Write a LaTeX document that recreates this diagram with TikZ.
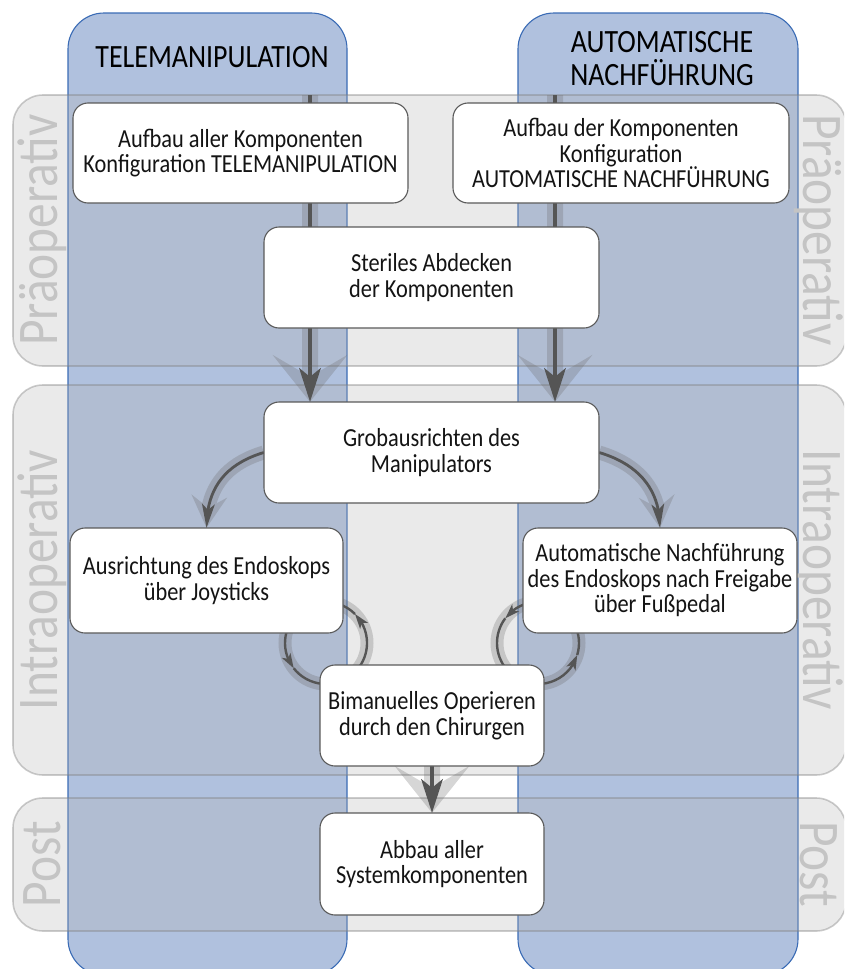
\documentclass[tikz,border=0pt]{standalone}
\usepackage{fontspec}
\setmainfont[FakeStretch=0.86]{Carlito}
\usetikzlibrary{arrows.meta,bending}

\definecolor{laneblue}{HTML}{B0C1DE}
\definecolor{laneedge}{HTML}{3A6BB5}
\definecolor{phasefill}{HTML}{B4B4B4}
\definecolor{phaseedge}{HTML}{808080}
\definecolor{phasetext}{HTML}{C4C4C4}
\definecolor{flowdark}{HTML}{555555}
\definecolor{flowhalo}{HTML}{6A6A6A}
\definecolor{boxedge}{HTML}{5A5A5A}

\tikzset{
  lane/.style={fill=laneblue, draw=laneedge, line width=1.1pt, rounded corners=36pt},
  phase/.style={fill=phasefill, fill opacity=0.28, draw=phaseedge, draw opacity=0.4,
    line width=1.6pt, rounded corners=30pt},
  phaselabel/.style={text=phasetext, inner sep=0pt, font=\fontsize{57.5}{57.5}\selectfont},
  lanetitle/.style={align=center, inner sep=0pt, text=black, font=\fontsize{32.5}{33}\selectfont},
  stepbox/.style={draw=boxedge, fill=white, line width=1.1pt, rounded corners=15pt,
    align=center, inner sep=0pt, text=black!92, font=\fontsize{26}{25.5}\selectfont},
  halo/.style={draw=flowhalo, line width=16pt},
  bighalo/.style={halo, -{Stealth[length=47pt, width=75pt, inset=22pt, line width=0pt]}},
  smallhalo/.style={halo, line width=14pt, -{Stealth[length=32pt, width=36pt, inset=12pt, line width=0pt]}},
  ring/.style={draw=flowhalo, line width=13pt},
  mainflow/.style={draw=flowdark, line width=4.5pt, -{Stealth[length=34pt, width=22pt, inset=9pt, line width=0pt]}},
  sideflow/.style={draw=flowdark, line width=2.8pt, -{Stealth[length=24pt, width=13pt, inset=6pt, line width=0pt]}},
  loopflow/.style={draw=flowdark, line width=2.4pt},
  looptip/.style={loopflow, -{Stealth[length=15pt, width=10pt, inset=4pt, line width=0pt]}},
  anchorbox/.style={draw=none, fill=none, inner sep=0pt, minimum width=#1},
}

\begin{document}
\begin{tikzpicture}[x=1pt, y=-1pt]
\useasboundingbox (0,0) rectangle (844,969);
\clip (0,0) rectangle (844,969);

% swim lanes
\draw[lane] (68,13) rectangle (347,975);
\draw[lane] (518,13) rectangle (798,975);

% phase bands
\draw[phase] (13,95) rectangle (846,366);
\draw[phase] (13,385) rectangle (846,775);
\draw[phase] (13,798) rectangle (846,931);

\node[phaselabel, rotate=90]  (pl1) at (42,230) {Präoperativ};
\node[phaselabel, rotate=-90] (pr1) at (819,230) {Präoperativ};
\node[phaselabel, rotate=90]  (pl2) at (42,580) {Intraoperativ};
\node[phaselabel, rotate=-90] (pr2) at (819,580) {Intraoperativ};
\node[phaselabel, rotate=90]  (pl3) at (42,864) {Post};
\node[phaselabel, rotate=-90] (pr3) at (819,864) {Post};

% lane titles
\node[lanetitle] (t1) at (212,57) {TELEMANIPULATION};
\node[lanetitle] (t2) at (662,59) {AUTOMATISCHE\\NACHFÜHRUNG};

% step boxes (placed first so connectors can refer to them; drawn on top later)
\path
  (240.5,153)   node[anchorbox=335pt, minimum height=100pt] (b1) {}
  (621,153)     node[anchorbox=336pt, minimum height=100pt] (b2) {}
  (431.5,277.5) node[anchorbox=335pt, minimum height=101pt] (b3) {}
  (431.5,452.5) node[anchorbox=335pt, minimum height=101pt] (b4) {}
  (206.5,580.5) node[anchorbox=273pt, minimum height=105pt] (b5) {}
  (660,580.5)   node[anchorbox=274pt, minimum height=105pt] (b6) {}
  (432,715.5)   node[anchorbox=224pt, minimum height=101pt] (b7) {}
  (432,864)     node[anchorbox=224pt, minimum height=102pt] (b8) {};

\coordinate (lt) at (310,95);
\coordinate (rt) at (555,95);
\coordinate (lc) at (326,643);
\coordinate (rc) at (538,643);

% translucent halos behind the flow arrows
\begin{scope}[transparency group, opacity=0.28]
  \draw[bighalo] (lt) -- (lt |- b4.north);
  \draw[bighalo] (rt) -- (rt |- b4.north);
  \draw[bighalo] ([yshift=25pt]b7.south) -- (b8.north);
  \draw[smallhalo] (b4.west) .. controls +(-40,12) and +(0,-38) .. (b5.north);
  \draw[smallhalo] (b4.east) .. controls +(40,12) and +(0,-38) .. (b6.north);
  \draw[ring] (lc) circle[radius=41];
  \draw[ring] (rc) circle[radius=41];
\end{scope}

% flow arrows
\draw[mainflow] (lt) -- (lt |- b4.north);
\draw[mainflow] (rt) -- (rt |- b4.north);
\draw[mainflow] (b7.south) -- (b8.north);
\draw[sideflow] (b4.west) .. controls +(-40,12) and +(0,-38) .. (b5.north);
\draw[sideflow] (b4.east) .. controls +(40,12) and +(0,-38) .. (b6.north);

% feedback loops between tracking and operating
\draw[looptip]  (lc) ++(200:41) arc[start angle=200, end angle=142, radius=41];
\draw[loopflow] (lc) ++(142:41) arc[start angle=142, end angle=95, radius=41];
\draw[looptip]  (lc) ++(45:41) arc[start angle=45, end angle=-45, radius=41];
\draw[loopflow] (lc) ++(-45:41) arc[start angle=-45, end angle=-72, radius=41];
\draw[looptip]  (rc) ++(255:41) arc[start angle=255, end angle=217, radius=41];
\draw[loopflow] (rc) ++(217:41) arc[start angle=217, end angle=140, radius=41];
\draw[looptip]  (rc) ++(85:41) arc[start angle=85, end angle=17, radius=41];
\draw[loopflow] (rc) ++(17:41) arc[start angle=17, end angle=-25, radius=41];

% visible step boxes
\node[stepbox, minimum width=335pt, minimum height=100pt] at (b1) {Aufbau aller Komponenten\\Konfiguration TELEMANIPULATION};
\node[stepbox, minimum width=336pt, minimum height=100pt] at (b2) {Aufbau der Komponenten\\Konfiguration\\AUTOMATISCHE NACHFÜHRUNG};
\node[stepbox, minimum width=335pt, minimum height=101pt] at (b3) {Steriles Abdecken\\der Komponenten};
\node[stepbox, minimum width=335pt, minimum height=101pt] at (b4) {Grobausrichten des\\Manipulators};
\node[stepbox, minimum width=273pt, minimum height=105pt] at (b5) {Ausrichtung des Endoskops\\über Joysticks};
\node[stepbox, minimum width=274pt, minimum height=105pt] at (b6) {Automatische Nachführung\\des Endoskops nach Freigabe\\über Fußpedal};
\node[stepbox, minimum width=224pt, minimum height=101pt] at (b7) {Bimanuelles Operieren\\durch den Chirurgen};
\node[stepbox, minimum width=224pt, minimum height=102pt] at (b8) {Abbau aller\\Systemkomponenten};
\end{tikzpicture}
\end{document}
